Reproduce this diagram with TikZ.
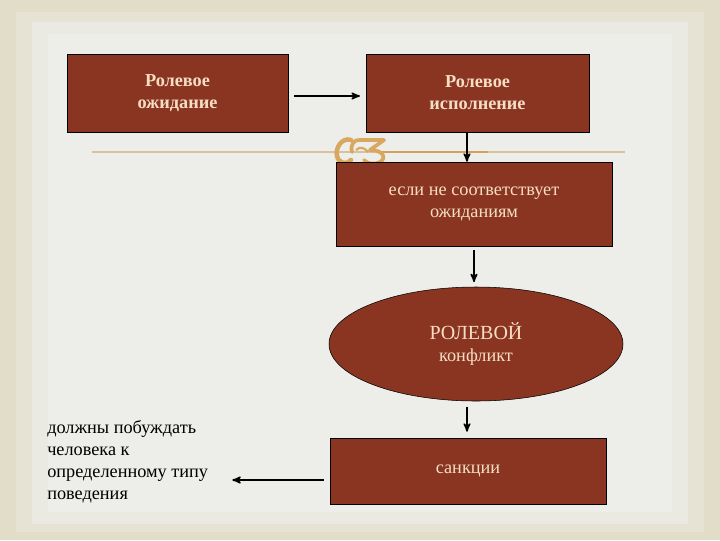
\documentclass[tikz,border=0pt]{standalone}
\usepackage{fontspec}
\setmainfont{Liberation Serif}
\usetikzlibrary{arrows,positioning,shapes.geometric}

\definecolor{boxred}{HTML}{8A3522}
\definecolor{boxtext}{HTML}{F6DEC4}
\definecolor{bgouter}{HTML}{E2DDC8}
\definecolor{bgmid}{HTML}{E6E3D4}
\definecolor{bginner}{HTML}{EAE9E2}
\definecolor{bgcore}{HTML}{EDEDE9}
\definecolor{rulegold}{HTML}{D8C19C}
\definecolor{orngold}{HTML}{D8A860}

\tikzset{
  rolebox/.style={draw=black, fill=boxred, text=boxtext, inner sep=0pt,
    align=center, font=\fontsize{13.7}{16.5}\selectfont},
  rolehead/.style={rolebox, font=\fontsize{13.7}{16.5}\selectfont\bfseries},
  conflict/.style={ellipse, draw=black, fill=boxred, text=boxtext, inner sep=0pt,
    align=center, minimum width=220.5pt, minimum height=85.5pt,
    font=\fontsize{13.7}{16}\selectfont},
  flow/.style={->, line width=1.2pt}
}

\begin{document}
\begin{tikzpicture}[x=0.75pt, y=-0.75pt, >=stealth']
	% background frame
	\fill[bgouter] (0,0) rectangle (720,540);
	\fill[bgmid] (16,12) rectangle (704,532);
	\fill[bginner] (32,22) rectangle (688,524);
	\fill[bgcore] (48,34) rectangle (672,512);
	\useasboundingbox (0,0) rectangle (720,540);

	% divider with flourish
	\draw[rulegold, line width=1.1pt] (92,152) -- (625,152);
	\draw[orngold!80!brown, line width=1.8pt] (380,152) -- (488,152);
	\draw[orngold, line width=3.4pt, line cap=round]
	  (351,140) .. controls (342,137) and (335,148) .. (337,156)
	  .. controls (339,164) and (347,165) .. (351,160);
	\draw[orngold, line width=2.8pt, line cap=round, line join=round]
	  (352,152) .. controls (350,145) and (354,139) .. (360,140)
	  -- (384,140) -- (370,150)
	  .. controls (383,150) and (387,158) .. (380,162)
	  .. controls (375,165) and (367,164) .. (364,160);
	\draw[orngold, line width=1.6pt] (356,150) .. controls (360,146) and (365,148) .. (368,152);

	\node[rolehead, minimum width=165.8pt, minimum height=58.5pt] (expect) at (177.5,93) {Ролевое\\ожидание};
	\node[rolehead, minimum width=167pt, minimum height=58.5pt] (perform) at (477.5,93) {Ролевое\\исполнение};
	\node[rolebox, minimum width=207pt, minimum height=63pt] (mismatch) at (474,204) {если не соответствует\\ожиданиям};
	\node[conflict] (conf) at (476,344) {{\fontsize{15}{16}\selectfont РОЛЕВОЙ}\\конфликт};
	\node[rolebox, minimum width=207pt, minimum height=49.5pt] (sanct) at (468,471) {санкции};
	\node[align=left, anchor=west, inner sep=0pt, font=\fontsize{13.7}{16.5}\selectfont] (behav) at (47,462)
	  {должны побуждать\\человека к\\определенному типу\\поведения};

	\draw[flow] ([xshift=4.5pt,yshift=-2.25pt]expect.east) -- ([xshift=-4.5pt,yshift=-2.25pt]perform.west);
	\draw[flow] ([xshift=-7.9pt]perform.south) -- ([xshift=-7.9pt]perform.south |- mismatch.north);
	\draw[flow, shorten <=3pt, shorten >=3.5pt] (mismatch.south) -- (mismatch.south |- conf.north);
	\draw[flow, shorten <=4pt, shorten >=4.5pt] ([xshift=-6.75pt]conf.south) -- ([xshift=-6.75pt]conf.south |- sanct.north);
	\draw[flow, shorten >=18pt] ([xshift=-4.5pt,yshift=-6.75pt]sanct.west) -- ([yshift=-6.75pt]sanct.west -| behav.east);
\end{tikzpicture}
\end{document}
